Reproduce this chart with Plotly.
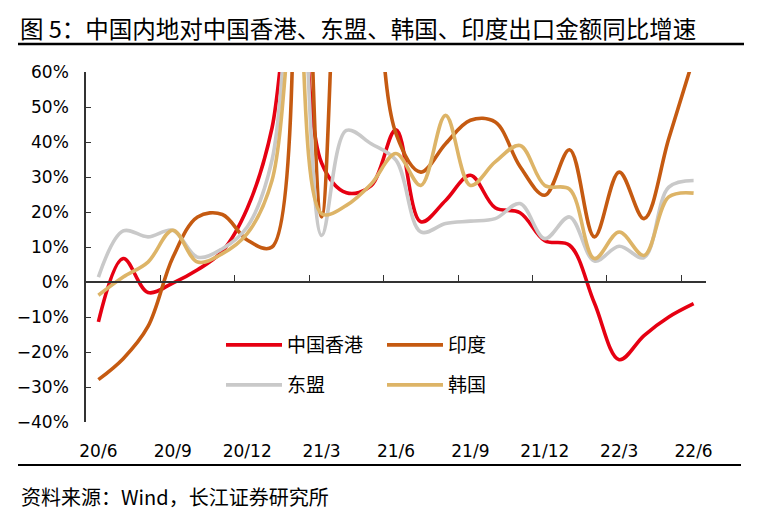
import plotly.graph_objects as go

months = ["20/6", "20/7", "20/8", "20/9", "20/10", "20/11", "20/12",
          "21/1", "21/2", "21/3", "21/4", "21/5", "21/6", "21/7", "21/8",
          "21/9", "21/10", "21/11", "21/12", "22/1", "22/2", "22/3", "22/4",
          "22/5", "22/6"]
tick_labels = months[::3]

hk = [-11.4, 6.7, -3.0, -0.3, 3.5, 8.8, 21.0, 44.0, 100.0, 34.0, 25.5, 27.5,
      43.5, 17.2, 23.3, 30.5, 21.2, 19.8, 11.8, 10.5, -6.0, -22.2, -15.3, -10.0, -6.2]
india = [-27.9, -21.9, -12.7, 7.0, 18.6, 19.3, 12.0, 10.0, 180.0, 18.6, 120.0, 97.0,
         42.4, 31.4, 39.5, 46.2, 45.7, 33.0, 24.8, 37.8, 12.9, 31.4, 18.1, 41.0, 64.0]
asean = [1.4, 14.6, 12.9, 14.8, 7.1, 9.5, 15.7, 34.8, 110.0, 13.3, 43.3, 39.5,
         34.8, 14.3, 16.7, 17.4, 18.1, 22.4, 12.4, 18.6, 6.0, 10.2, 7.0, 27.1, 29.0]
korea = [-3.8, 1.4, 5.7, 14.8, 5.7, 8.1, 13.8, 29.0, 88.0, 19.5, 21.9, 28.0,
         36.7, 27.6, 47.6, 27.6, 34.3, 39.0, 27.6, 26.5, 6.7, 14.3, 7.6, 24.3, 25.4]

series = [
    ("中国香港", hk, "#E60012", "legend"),
    ("印度", india, "#C55A11", "legend"),
    ("东盟", asean, "#C9C9C9", "legend2"),
    ("韩国", korea, "#DDB467", "legend2"),
]

CJK = "Noto Sans CJK SC"
NUM = "DejaVu Sans, Noto Sans CJK SC"
AX = "#333333"

fig = go.Figure()
for name, vals, color, lg in series:
    fig.add_trace(go.Scatter(
        x=months, y=vals, name=name, mode="lines",
        line=dict(color=color, width=3.6, shape="spline", smoothing=1),
        legend=lg, hoverinfo="skip"))

# helper axis drawn along the 0% line carrying the boundary tick marks
fig.add_trace(go.Scatter(x=[], y=[], xaxis="x2", showlegend=False, hoverinfo="skip"))

W, H = 762, 525
L, R, T, B = 86, 56, 72, 103
PW, PH = W - L - R, H - T - B

def px(xp):
    return (xp - L) / PW

def py(yp):
    return (H - B - yp) / PH

n = len(months)
boundaries = [i + 2.5 for i in range(0, n - 3, 3)]

legend_common = dict(orientation="h", xanchor="left", yanchor="middle",
                     entrywidth=90, entrywidthmode="pixels",
                     font=dict(family=CJK, size=19), bgcolor="rgba(0,0,0,0)",
                     itemwidth=56)

fig.update_layout(
    width=W, height=H,
    margin=dict(l=L, r=R, t=T, b=B),
    paper_bgcolor="white", plot_bgcolor="white",
    font=dict(family=NUM, size=17, color="black"),
    title=dict(text="图 5：中国内地对中国香港、东盟、韩国、印度出口金额同比增速",
               x=20 / W, xref="container", xanchor="left",
               y=1 - 30 / H, yref="container", yanchor="middle",
               font=dict(family=CJK, size=23.5, color="black")),
    xaxis=dict(type="category", range=[-0.5, n - 0.5], tickvals=tick_labels,
               ticktext=tick_labels, ticks="", showline=False, showgrid=False,
               zeroline=False, tickfont=dict(family=NUM, size=17),
               ticklabelstandoff=17),
    xaxis2=dict(overlaying="x", anchor="free", position=0.4, type="linear",
                range=[-0.5, n - 0.5], tickvals=boundaries, ticks="inside",
                ticklen=6, tickwidth=1.3, tickcolor=AX, showticklabels=False,
                showline=True, linecolor=AX, linewidth=1.5, showgrid=False,
                zeroline=False),
    yaxis=dict(range=[-40, 60], dtick=10, tick0=0, ticksuffix="%",
               ticks="inside", ticklen=5, tickwidth=1.3, tickcolor=AX,
               showline=True, linecolor=AX, linewidth=1.5, showgrid=False,
               zeroline=False, tickfont=dict(family=NUM, size=17),
               ticklabelstandoff=12),
    legend=dict(x=px(221), y=py(345), **legend_common),
    legend2=dict(x=px(221), y=py(385), **legend_common),
    shapes=[
        dict(type="line", xref="paper", yref="paper", x0=px(18), x1=px(744),
             y0=py(44), y1=py(44), line=dict(color="black", width=2.5)),
        dict(type="line", xref="paper", yref="paper", x0=px(18), x1=px(741),
             y0=py(465), y1=py(465), line=dict(color="black", width=2.2)),
    ],
    annotations=[
        dict(text="资料来源：Wind，长江证券研究所", xref="paper", yref="paper",
             x=px(19), y=py(496), xanchor="left", yanchor="middle",
             showarrow=False, font=dict(family=CJK, size=20, color="black")),
    ],
)

fig.write_html("out.html", config={"displayModeBar": False},
               post_script="document.body.style.margin='0px';")
